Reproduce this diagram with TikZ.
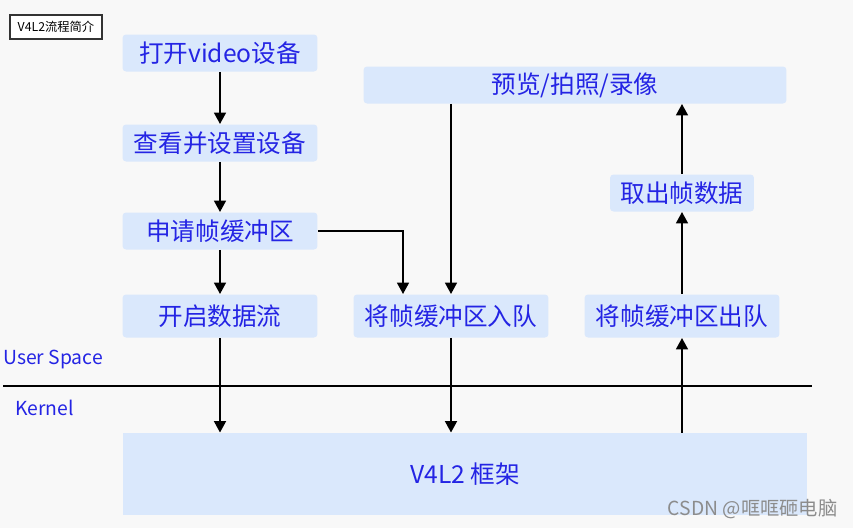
\documentclass[tikz,border=0pt]{standalone}
\usepackage{fontspec}
\setmainfont{Noto Sans CJK SC}
\usepackage{xcolor}
\usetikzlibrary{arrows.meta}
\definecolor{boxblue}{RGB}{218,232,252}
\definecolor{textblue}{RGB}{36,36,228}
\definecolor{pagegray}{RGB}{248,248,248}

\tikzset{
  stepbox/.style={rectangle, rounded corners=2pt, fill=boxblue, text=textblue, inner sep=0pt,
    font=\fontsize{14}{16}\selectfont},
  arr/.style={-{Triangle[length=6.5pt,width=6.5pt]}, line width=1.6pt, black}
}

\begin{document}
\begin{tikzpicture}[x=0.02cm, y=-0.02cm]
    % Background
    \fill[pagegray] (0,0) rectangle (853,528);
    \useasboundingbox (0,0) rectangle (853,528);

    % Title
    \node[draw=black!80, fill=white, line width=0.6pt, minimum width=1.84cm, minimum height=0.48cm, inner sep=0pt,
      font=\fontsize{7}{8}\selectfont] (title) at (56,27) {V4L2流程简介};

    % User space steps
    \node[stepbox, minimum width=3.9cm, minimum height=0.74cm] (open) at (220,53) {打开video设备};
    \node[stepbox, minimum width=3.9cm, minimum height=0.74cm] (query) at (220,143) {查看并设置设备};
    \node[stepbox, minimum width=3.9cm, minimum height=0.74cm] (req) at (220,231) {申请帧缓冲区};
    \node[stepbox, minimum width=3.9cm, minimum height=0.86cm] (stream) at (220,316) {开启数据流};
    \node[stepbox, minimum width=3.9cm, minimum height=0.86cm] (enq) at (451,316) {将帧缓冲区入队};
    \node[stepbox, minimum width=3.9cm, minimum height=0.86cm] (deq) at (682,316) {将帧缓冲区出队};
    \node[stepbox, minimum width=2.88cm, minimum height=0.74cm] (fetch) at (682,193) {取出帧数据};
    \node[stepbox, minimum width=8.46cm, minimum height=0.74cm] (preview) at (575,85) {预览/拍照/录像};

    % Kernel
    \node[stepbox, rounded corners=0pt, minimum width=13.7cm, minimum height=1.64cm] (v4l2) at (465,474) {V4L2 框架};

    % Space divider
    \coordinate (divl) at (3,386);
    \coordinate (divr) at (812,386);
    \draw[line width=1.1pt, black] (divl) -- (divr);
    \node[anchor=base west, text=textblue, inner sep=0pt, font=\fontsize{11}{13}\selectfont] (user) at (3,364) {User Space};
    \node[anchor=base west, text=textblue, inner sep=0pt, font=\fontsize{11}{13}\selectfont] (kern) at (15,415) {Kernel};

    % Arrows
    \draw[arr] (open) -- (query);
    \draw[arr] (query) -- (req);
    \draw[arr] (req) -- (stream);
    \draw[arr] (req.east) -| ([xshift=-0.96cm]enq.north);
    \draw[arr] (preview.south -| enq.north) -- (enq.north);
    \draw[arr] (stream.south) -- (stream.south |- v4l2.north);
    \draw[arr] (enq.south) -- (enq.south |- v4l2.north);
    \draw[arr] (v4l2.north -| deq.south) -- (deq.south);
    \draw[arr] (deq) -- (fetch);
    \draw[arr] (fetch.north) -- (fetch.north |- preview.south);

    % Watermark
    \node[anchor=east, text=black!45, inner sep=0pt, font=\fontsize{11}{12}\selectfont] (mark) at (838,509) {CSDN @哐哐砸电脑};
\end{tikzpicture}
\end{document}
